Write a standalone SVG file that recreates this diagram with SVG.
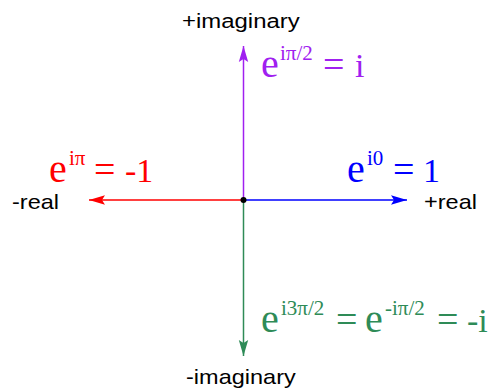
<svg xmlns="http://www.w3.org/2000/svg" width="492" height="390" viewBox="0 0 492 390">
<style>
.lbl{font-family:"Liberation Sans",Arial,sans-serif;font-size:21px;fill:#000}
.eq{font-family:"Liberation Serif","Times New Roman",serif;font-size:34px}
.e{font-size:40px}
.op{font-size:38px}
.sup{font-size:21px}
.ax{stroke-width:1.5;fill:none}
</style>
<defs>
<marker id="aP" markerUnits="userSpaceOnUse" markerWidth="20" markerHeight="12" refX="16" refY="5" orient="auto" viewBox="0 0 20 10"><path d="M0,0.3 L16,5 L0,9.7 L3,5 Z" fill="#a020f0"/></marker>
<marker id="aR" markerUnits="userSpaceOnUse" markerWidth="20" markerHeight="12" refX="16" refY="5" orient="auto" viewBox="0 0 20 10"><path d="M0,0.3 L16,5 L0,9.7 L3,5 Z" fill="#ff0000"/></marker>
<marker id="aB" markerUnits="userSpaceOnUse" markerWidth="20" markerHeight="12" refX="16" refY="5" orient="auto" viewBox="0 0 20 10"><path d="M0,0.3 L16,5 L0,9.7 L3,5 Z" fill="#0000ff"/></marker>
<marker id="aG" markerUnits="userSpaceOnUse" markerWidth="20" markerHeight="12" refX="16" refY="5" orient="auto" viewBox="0 0 20 10"><path d="M0,0.3 L16,5 L0,9.7 L3,5 Z" fill="#2e8b57"/></marker>
</defs>
<g id="connectors">
<line class="ax" x1="243.5" y1="200" x2="243.5" y2="46" stroke="#a020f0" marker-end="url(#aP)"/>
<line class="ax" x1="243.5" y1="200" x2="243.5" y2="356" stroke="#2e8b57" marker-end="url(#aG)"/>
<line class="ax" x1="243.5" y1="200" x2="89" y2="200" stroke="#ff0000" marker-end="url(#aR)"/>
<line class="ax" x1="243.5" y1="200" x2="407" y2="200" stroke="#0000ff" marker-end="url(#aB)"/>
</g>
<g id="origin"><circle cx="243.5" cy="200" r="3" fill="#000"/></g>
<g id="label-pos-imag"><text class="lbl" transform="translate(182,28) scale(1.14,1)">+imaginary</text></g>
<g id="label-neg-imag"><text class="lbl" transform="translate(186,384) scale(1.12,1)">-imaginary</text></g>
<g id="label-neg-real"><text class="lbl" transform="translate(12,209) scale(1.12,1)">-real</text></g>
<g id="label-pos-real"><text class="lbl" transform="translate(424,209) scale(1.12,1)">+real</text></g>
<g id="eq-i"><text class="eq" fill="#a020f0" y="77"><tspan class="e" x="261">e</tspan><tspan class="sup" x="280" y="60">iπ/2</tspan><tspan class="op" x="323" y="77">=</tspan><tspan x="355">i</tspan></text></g>
<g id="eq-neg1"><text class="eq" fill="#ff0000" y="182"><tspan class="e" x="49">e</tspan><tspan class="sup" x="69" y="165">iπ</tspan><tspan class="op" x="94" y="182">=</tspan><tspan x="125">-1</tspan></text></g>
<g id="eq-1"><text class="eq" fill="#0000ff" y="182"><tspan class="e" x="347">e</tspan><tspan class="sup" x="367" y="165">i0</tspan><tspan class="op" x="393" y="182">=</tspan><tspan x="423">1</tspan></text></g>
<g id="eq-neg-i"><text class="eq" fill="#2e8b57" y="332"><tspan class="e" x="261">e</tspan><tspan class="sup" x="281" y="315">i3π/2</tspan><tspan class="op" x="336" y="332">=</tspan><tspan class="e" x="365">e</tspan><tspan class="sup" x="385" y="315">-iπ/2</tspan><tspan class="op" x="437" y="332">=</tspan><tspan x="467">-i</tspan></text></g>
</svg>
